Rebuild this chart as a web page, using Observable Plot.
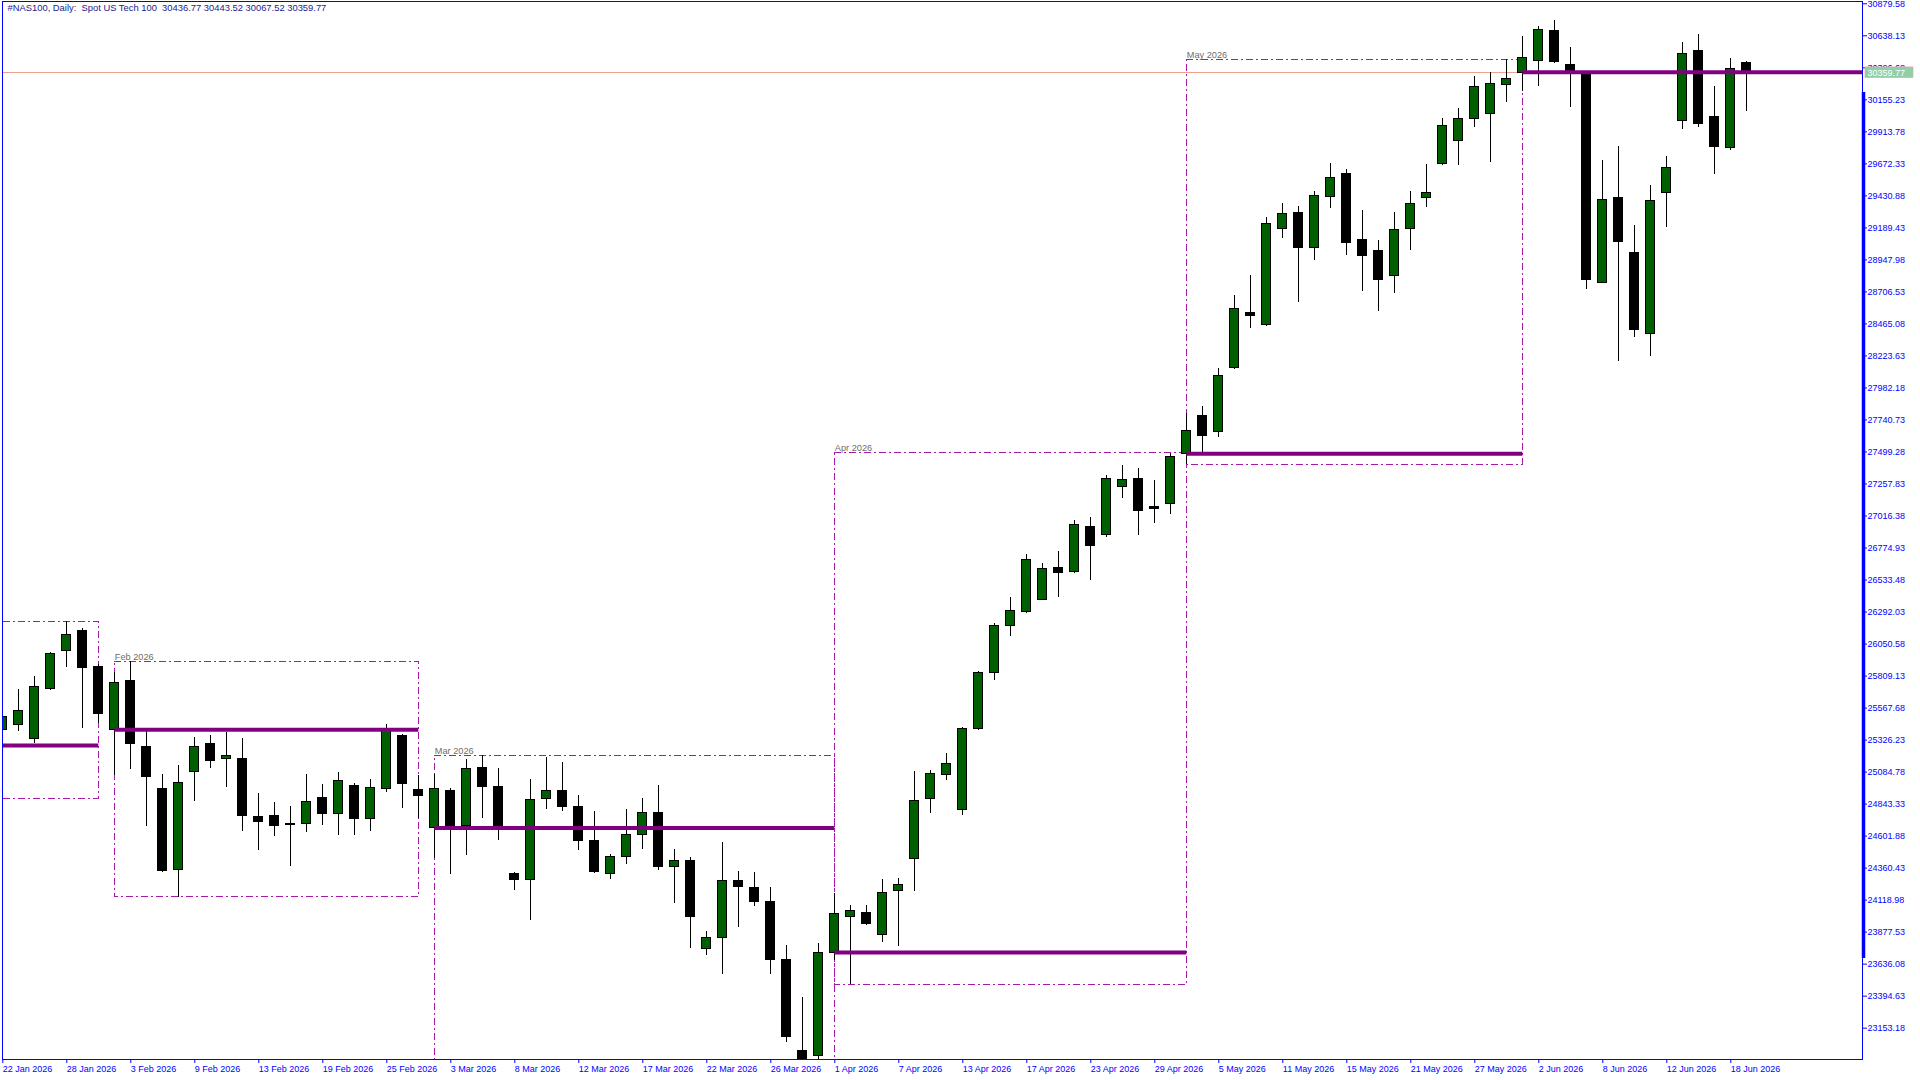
<!DOCTYPE html>
<html>
<head>
<meta charset="utf-8">
<script src="https://cdn.jsdelivr.net/npm/d3@7"></script>
<script src="https://cdn.jsdelivr.net/npm/@observablehq/plot@0.6"></script>
<style>
  html, body { margin: 0; padding: 0; background: #ffffff; }
  svg text { white-space: pre; }
</style>
</head>
<body>
<div id="chart"></div>
<script>
// ---- Daily OHLC bars (22 Jan 2026 .. 18 Jun 2026), one value per bar ----
const opens = [25403.6,25441.3,25335.7,25709.8,25999.4,26150.3,25878.8,25403.6,25773.2,25275.4,
24958.6,24347.6,25083.8,25298.0,25181.8,25187.1,24747.4,24754.9,24696.8,24691.6,
24890.7,24770.0,24981.2,24729.3,24955.5,25360.6,24951.0,24662.9,24945.7,24681.7,
25119.2,24975.9,24319.7,24272.2,24883.1,24945.7,24825.1,24568.6,24314.4,24442.6,
24608.6,24779.8,24370.2,24417.8,23748.7,23831.7,24266.9,24214.1,24108.5,23671.0,
22984.6,22944.7,23723.8,23992.3,24021.8,23855.1,24188.5,24431.3,24883.9,25064.2,
24800.2,25411.9,25835.0,26187.3,26292.9,26384.1,26624.0,26594.6,26934.0,26874.4,
27235.7,27297.6,27084.9,27109.0,27485.4,27772.0,27648.3,28131.0,28548.9,28458.4,
29182.5,29303.2,29039.2,29423.8,29597.3,29099.5,29016.5,28828.0,29179.5,29416.3,
29672.8,29841.0,30014.4,30052.1,30268.6,30359.1,30449.7,30675.9,30421.7,30361.4,
28775.2,29416.3,29003.7,28390.5,29454.0,29997.1,30525.1,30027.3,29793.4,30436.77];

const highs = [25534.1,25707.6,25805.6,25986.6,26218.2,26165.4,25896.1,25835.8,25918.8,25393.0,
25066.4,25134.3,25345.5,25360.6,25383.2,25338.0,24923.1,24855.2,24825.1,25066.4,
24991.0,25081.5,24998.5,25028.7,25441.3,25368.1,25058.9,25066.4,24958.6,25179.6,
25207.5,25111.7,24327.0,25028.7,25196.9,25156.9,24908.0,24787.3,24460.7,24802.4,
24885.4,24983.5,24500.7,24440.4,23882.2,24553.5,24334.8,24327.2,24214.1,23776.6,
23384.4,23794.0,24171.1,24075.3,24075.3,24274.4,24282.7,25089.1,25093.6,25223.3,
25420.9,25840.3,26209.1,26400.7,26723.6,26661.7,26745.4,26979.3,27004.1,27318.7,
27397.1,27375.2,27281.0,27491.4,27789.3,27842.1,28128.8,28679.4,28830.2,29267.7,
29373.3,29350.7,29463.8,29675.0,29629.8,29320.5,29094.2,29305.4,29463.8,29667.5,
30014.4,30089.9,30331.2,30361.4,30457.2,30632.9,30708.4,30753.6,30550.0,30368.0,
29697.6,29803.2,29207.4,29509.1,29727.8,30587.7,30648.0,30253.5,30464.7,30443.52];

const lows = [25383.2,25393.0,25302.5,25700.0,25871.2,25411.1,25448.8,25061.1,25106.4,24676.5,
24329.5,24140.9,24865.0,25113.9,24970.6,24638.8,24495.4,24601.0,24374.8,24631.2,
24684.0,24608.6,24608.6,24638.8,24932.9,24812.2,24732.3,24430.6,24314.4,24455.5,
24736.8,24570.9,24193.7,23967.5,24802.4,24789.6,24495.4,24322.0,24276.7,24389.8,
24503.0,24340.1,24095.7,23756.3,23703.5,23560.1,23914.7,24073.1,23560.1,23042.7,
22570.0,22880.0,23663.5,23480.2,23930.5,23800.8,23771.3,24186.2,24776.0,25018.2,
24754.2,25395.3,25772.4,26109.6,26279.3,26375.8,26400.7,26581.0,26532.7,26855.6,
27152.0,26872.1,26963.4,27030.5,27402.4,27497.4,27610.6,28123.5,28432.7,28447.8,
29111.6,28628.8,28945.6,29337.9,28983.3,28711.8,28561.0,28696.7,29021.1,29345.4,
29662.2,29662.2,29946.5,29684.8,30137.4,30220.4,30258.1,30427.0,30099.7,28726.9,
28770.0,28183.8,28364.8,28221.5,29194.5,29933.7,29944.3,29594.3,29770.8,30067.52];

const closes = [25501.6,25549.2,25727.9,25976.8,26120.1,25871.2,25524.3,25758.1,25295.0,25046.1,
24337.0,25003.8,25275.4,25166.7,25207.5,24751.9,24706.6,24676.5,24687.0,24860.5,
24767.0,25018.9,24729.3,24966.1,25400.6,24993.3,24902.7,24958.6,24681.7,25109.4,
24970.6,24649.3,24272.2,24877.9,24945.7,24819.8,24563.3,24334.8,24447.9,24611.6,
24779.8,24367.2,24417.8,23990.1,23837.0,24266.9,24216.4,24103.2,23665.7,23088.0,
22758.0,23721.6,24015.7,24037.6,23938.0,24172.6,24234.5,24867.3,25072.5,25147.9,
25411.9,25832.0,26187.3,26300.4,26685.8,26618.7,26589.3,26949.8,26790.7,27297.6,
27289.3,27054.7,27071.3,27462.0,27658.9,27618.1,28073.7,28579.1,28526.3,29220.2,
29295.6,29036.1,29431.4,29567.2,29076.9,28978.8,28797.8,29174.9,29371.0,29454.0,
29954.1,30014.4,30248.3,30270.9,30313.9,30472.3,30683.5,30439.1,30356.1,28797.8,
29401.2,29084.4,28420.7,29393.7,29642.6,30502.4,29971.4,29801.0,30389.3,30359.77];

// ---- Monthly range boxes and monthly open levels ----
const monthLabels   = ["Jan 2026","Feb 2026","Mar 2026","Apr 2026","May 2026","Jun 2026"];
const monthFirstBar = [-14, 7, 27, 52, 74, 95];
const monthBoxEnd   = [6, 26, 52, 74, 95, null];
const monthOpen     = [25285.2, 25403.6, 24662.9, 23723.8, 27485.4, 30363.0];
const monthHigh     = [26218.2, 25918.8, 25207.5, 27491.4, 30457.2, null];
const monthLow      = [24883.1, 24140.9, 22570.0, 23480.2, 27402.4, null];

// ---- Axis tick labels ----
const priceTicks = [30879.58,30638.13,30396.68,30155.23,29913.78,29672.33,29430.88,29189.43,
28947.98,28706.53,28465.08,28223.63,27982.18,27740.73,27499.28,27257.83,27016.38,26774.93,
26533.48,26292.03,26050.58,25809.13,25567.68,25326.23,25084.78,24843.33,24601.88,24360.43,
24118.98,23877.53,23636.08,23394.63,23153.18];
const dateLabels = ["22 Jan 2026","28 Jan 2026","3 Feb 2026","9 Feb 2026","13 Feb 2026","19 Feb 2026",
"25 Feb 2026","3 Mar 2026","8 Mar 2026","12 Mar 2026","17 Mar 2026","22 Mar 2026","26 Mar 2026",
"1 Apr 2026","7 Apr 2026","13 Apr 2026","17 Apr 2026","23 Apr 2026","29 Apr 2026","5 May 2026",
"11 May 2026","15 May 2026","21 May 2026","27 May 2026","2 Jun 2026","8 Jun 2026","12 Jun 2026","18 Jun 2026"];
const barsPerDateLabel = 4;
const scaleBarRange = [23678.6, 30210.5];   // thick segment on the price scale

const symbolTitle = "#NAS100, Daily:  Spot US Tech 100";

// ---- build tables ----
const candles = opens.map((o, i) => ({i, open: o, high: highs[i], low: lows[i], close: closes[i]}));
const W = 1920, H = 1080, mL = 2, mR = 58, mT = 1, mB = 21;
const xDomain = [-0.01875, 116.23];
const yDomain = [22916.9, 30896.9];
const pxPerBar = (W - mL - mR) / (xDomain[1] - xDomain[0]);
const pxPerPt = (H - mT - mB) / (yDomain[1] - yDomain[0]);
const halfBody = 4.5 / pxPerBar;

const months = monthLabels.map((label, k) => ({
  label, start: monthFirstBar[k], end: monthBoxEnd[k] == null ? xDomain[1] : monthBoxEnd[k],
  open: monthOpen[k], high: monthHigh[k], low: monthLow[k]
}));
const boxes = months.filter(m => m.high != null);
const visibleBoxLabels = boxes.filter(m => m.start >= xDomain[0]);
const dateTicks = dateLabels.map((_, k) => k * barsPerDateLabel);
const last = candles[candles.length - 1];
const f2 = d3.format(".2f");
const titleText = `${symbolTitle}  ${f2(last.open)} ${f2(last.high)} ${f2(last.low)} ${f2(last.close)}`;

const BULL = "#006000", BOX = "#a818a8", OPENLINE = "#800080", AXIS = "#0000ff";

const chart = Plot.plot({
  width: W, height: H,
  marginLeft: mL, marginRight: mR, marginTop: mT, marginBottom: mB,
  x: {domain: xDomain},
  y: {domain: yDomain},
  style: {background: "#ffffff", fontFamily: "'Liberation Sans', Arial, sans-serif", fontSize: "9px"},
  marks: [
    // monthly range boxes (behind the bars)
    Plot.rect(boxes, {
      x1: "start", x2: "end", y1: "low", y2: "high",
      fill: "none", stroke: BOX, strokeWidth: 1, strokeDasharray: "7,3,2,3",
      clip: true, shapeRendering: "crispEdges"
    }),
    // bid line
    Plot.ruleY([last.close], {stroke: "#f0a090", strokeWidth: 1, shapeRendering: "crispEdges"}),
    // wicks
    Plot.ruleX(candles, {x: "i", y1: "low", y2: "high", stroke: "#000", strokeWidth: 1, clip: true, shapeRendering: "crispEdges"}),
    // bodies
    Plot.rect(candles, {
      x1: d => d.i - halfBody, x2: d => d.i + halfBody,
      y1: "open", y2: "close",
      fill: d => d.close >= d.open ? BULL : "#000",
      stroke: "#000", strokeWidth: 1, clip: true, shapeRendering: "crispEdges"
    }),
    // monthly open levels
    Plot.ruleY(months, {y: "open", x1: "start", x2: "end", stroke: OPENLINE, strokeWidth: 4, clip: true}),
    // month names
    Plot.text(visibleBoxLabels, {x: "start", y: "high", text: "label", textAnchor: "start", lineAnchor: "bottom",
      dy: -2, fill: "#6e6e6e", fontSize: 9.2, clip: true}),
    // frame
    Plot.frame({stroke: AXIS, strokeWidth: 1, shapeRendering: "crispEdges"}),
    // price scale
    Plot.axisY(priceTicks, {anchor: "right", tickSize: 4, tickPadding: 1, tickFormat: f2,
      color: AXIS, label: null, fontSize: 9}),
    Plot.ruleX([xDomain[1]], {y1: scaleBarRange[0], y2: scaleBarRange[1], stroke: AXIS, strokeWidth: 3.5, dx: 1}),
    // time scale
    Plot.axisX(dateTicks, {anchor: "bottom", tickSize: 4, tickPadding: 2, textAnchor: "start",
      tickFormat: d => dateLabels[d / barsPerDateLabel], color: AXIS, label: null, fontSize: 9}),
    // current price tag
    Plot.rect([last], {
      x1: () => xDomain[1] + 3 / pxPerBar, x2: () => xDomain[1] + 51 / pxPerBar,
      y1: d => d.close - 5.3 / pxPerPt, y2: d => d.close + 5.3 / pxPerPt,
      fill: "#8fd0a8", stroke: "#f0a090", strokeWidth: 0.6
    }),
    Plot.text([last], {x: () => xDomain[1], y: "close", text: d => f2(d.close), dx: 5,
      textAnchor: "start", fill: "#ffffff", fontSize: 9}),
    // symbol title
    Plot.text([titleText], {frameAnchor: "top-left", dx: 5, dy: 3, textAnchor: "start",
      lineAnchor: "top", fill: "#1a1a8c", fontSize: 9.4})
  ]
});
document.getElementById("chart").appendChild(chart);
</script>
</body>
</html>
